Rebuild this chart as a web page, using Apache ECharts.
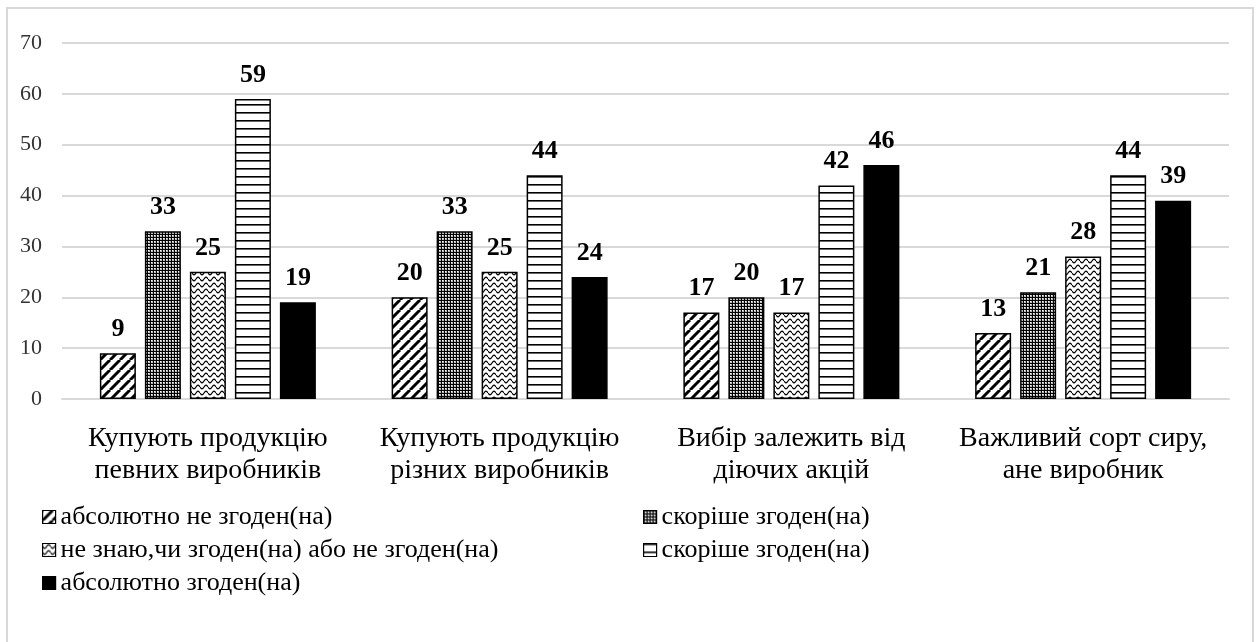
<!DOCTYPE html>
<html>
<head>
<meta charset="utf-8">
<script src="https://cdn.jsdelivr.net/npm/echarts@6/dist/echarts.min.js"></script>
<style>
  html, body { margin: 0; padding: 0; background: #fff; }
  #chart { width: 1259px; height: 642px; }
</style>
</head>
<body>
<div id="chart"></div>
<script>
// Survey answers about cheese purchasing, share of respondents (%)
const categories = [
  'Купують продукцію\nпевних виробників',
  'Купують продукцію\nрізних виробників',
  'Вибір залежить від\nдіючих акцій',
  'Важливий сорт сиру,\nане виробник'
];
const seriesNames = [
  'абсолютно не згоден(на)',
  'скоріше згоден(на)',
  'не знаю,чи згоден(на) або не згоден(на)',
  'скоріше згоден(на) ',   // trailing space keeps the two legend entries distinct
  'абсолютно згоден(на)'
];
const stronglyDisagree = [9, 20, 17, 13];
const ratherAgreeA     = [33, 33, 20, 21];
const undecided        = [25, 25, 17, 28];
const ratherAgreeB     = [59, 44, 42, 44];
const stronglyAgree    = [19, 24, 46, 39];
const yTicks = [0, 10, 20, 30, 40, 50, 60, 70];

// Monochrome hatch fills for the bars
function tile(w, h, draw) {
  const c = document.createElement('canvas');
  c.width = w; c.height = h;
  const g = c.getContext('2d');
  g.fillStyle = '#fff';
  g.fillRect(0, 0, w, h);
  g.strokeStyle = '#000';
  g.fillStyle = '#000';
  draw(g, w, h);
  return { image: c, repeat: 'repeat' };
}
const diagonal = tile(10, 10, (g, w, h) => {
  g.lineWidth = 3;
  g.beginPath();
  for (let k = -1; k <= 1; k++) {
    g.moveTo(k * w, h);
    g.lineTo(k * w + w, 0);
  }
  g.stroke();
});
const dotted = tile(3, 3, (g) => {
  g.fillRect(0, 0, 3, 3);
  g.fillStyle = '#bbb';
  g.fillRect(1, 1, 2, 2);
  g.fillStyle = '#fff';
  g.fillRect(1, 1, 1, 1);
});
const wavy = tile(8, 6, (g, w) => {
  g.lineWidth = 1.2;
  g.beginPath();
  for (let x = 0; x <= w; x += 0.5) {
    const y = 3 + 1.8 * Math.sin(2 * Math.PI * x / w);
    if (x === 0) g.moveTo(x, y); else g.lineTo(x, y);
  }
  g.stroke();
});
const striped = tile(8, 8, (g) => {
  g.fillRect(0, 0, 8, 1);
  g.fillStyle = '#666';
  g.fillRect(0, 1, 8, 1);
});
const fills = [diagonal, dotted, wavy, striped, '#000'];
const values = [stronglyDisagree, ratherAgreeA, undecided, ratherAgreeB, stronglyAgree];

const serif = '"Liberation Serif", "Times New Roman", serif';

const series = seriesNames.map((name, i) => ({
  name: name,
  type: 'bar',
  data: values[i],
  barWidth: 36,
  barGap: '25%',
  itemStyle: { color: fills[i], borderColor: '#000', borderWidth: 1.5 },
  label: {
    show: true,
    position: 'top',
    distance: 11,
    fontFamily: serif,
    fontWeight: 'bold',
    fontSize: 26,
    color: '#000'
  }
}));

const legendBase = {
  orient: 'vertical',
  top: 502,
  icon: 'rect',
  itemWidth: 13,
  itemHeight: 13,
  itemGap: 3,
  padding: 0,
  selectedMode: false,
  itemStyle: { borderColor: '#000', borderWidth: 1.2 },
  textStyle: { fontFamily: serif, fontSize: 26, lineHeight: 30, color: '#000' }
};

const chart = echarts.init(document.getElementById('chart'), null, { renderer: 'canvas' });
chart.setOption({
  backgroundColor: '#fff',
  animation: false,
  graphic: [{
    type: 'rect',
    shape: { x: 7, y: 8, width: 1246, height: 700 },
    style: { fill: 'none', stroke: '#d9d9d9', lineWidth: 2 },
    silent: true
  }],
  grid: { left: 62, right: 30, top: 43, bottom: 243, containLabel: false },
  legend: [
    Object.assign({}, legendBase, { left: 42, data: [seriesNames[0], seriesNames[2], seriesNames[4]] }),
    Object.assign({}, legendBase, { left: 643, data: [seriesNames[1], seriesNames[3]] })
  ],
  xAxis: {
    type: 'category',
    data: categories,
    axisLine: { lineStyle: { color: '#d9d9d9', width: 2 } },
    axisTick: { show: false },
    axisLabel: {
      fontFamily: serif,
      fontSize: 28,
      lineHeight: 32,
      color: '#000',
      margin: 24,
      interval: 0
    }
  },
  yAxis: {
    type: 'value',
    min: yTicks[0],
    max: yTicks[yTicks.length - 1],
    interval: 10,
    axisLine: { show: false },
    axisTick: { show: false },
    splitLine: { lineStyle: { color: '#d9d9d9', width: 2 } },
    axisLabel: { fontFamily: serif, fontSize: 22, color: '#333', margin: 20 }
  },
  series: series
});
</script>
</body>
</html>
